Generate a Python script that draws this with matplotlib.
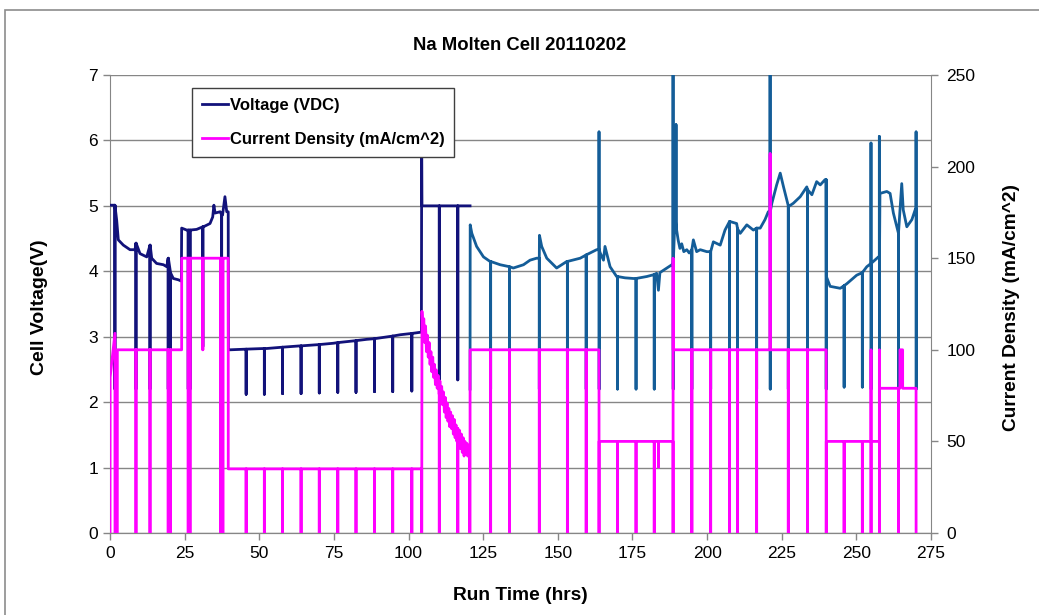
import numpy as np
import matplotlib.pyplot as plt
from matplotlib.lines import Line2D
from matplotlib.patches import Rectangle

plt.rcParams['font.family'] = ['Liberation Sans', 'DejaVu Sans']

# ---- voltage, first run (navy): baseline trace in hours / volts
v1_t = [0.0, 1.6, 2.24, 2.78, 4.46, 6.7, 8.38, 8.75, 10.05, 12.3, 13.45, 13.97, 15.6, 17.9, 19.0,
        19.55, 20.35, 21.2, 22.9, 23.9, 24.0, 25.7, 26.5, 29.0, 31.3, 33.5, 34.4, 34.8, 35.2, 36.9,
        37.7, 38.5, 39.1, 39.6, 39.65, 40.2, 52.5, 63.7, 74.8, 86.0, 97.2, 104.3, 104.4, 104.5, 120.6]
v1_v = [5.01, 5.01, 4.78, 4.48, 4.40, 4.33, 4.33, 4.43, 4.27, 4.22, 4.40, 4.20, 4.12, 4.10, 4.07,
        4.20, 3.97, 3.89, 3.87, 3.85, 4.66, 4.63, 4.63, 4.64, 4.68, 4.73, 4.83, 5.01, 4.89, 4.91,
        4.86, 5.14, 4.91, 4.91, 2.80, 2.80, 2.82, 2.86, 2.90, 2.96, 3.03, 3.07, 5.80, 5.00, 5.00]
# interruptions: time, level before the interruption, level reached
v1_ev_t = [1.65, 8.7, 13.4, 19.5, 20.3, 26.2, 26.8, 31.1, 37.4, 45.6, 51.7, 57.8, 64.0, 70.1,
           76.3, 82.4, 88.6, 94.7, 101.1, 110.3, 116.5]
v1_ev_base = [5.01, 4.43, 4.40, 4.20, 3.97, 4.63, 4.63, 4.68, 4.86, 2.81, 2.82, 2.84, 2.86, 2.88,
              2.91, 2.94, 2.97, 3.01, 3.05, 5.00, 5.00]
v1_ev_to = [2.2, 2.2, 2.2, 2.2, 2.2, 2.2, 2.2, 2.85, 2.2, 2.12, 2.12, 2.13, 2.13, 2.14,
            2.15, 2.15, 2.16, 2.16, 2.17, 2.34, 2.34]

# ---- voltage, second run (steel blue)
v2_t = [120.6, 120.65, 121.2, 122.8, 125.1, 127.3, 130.7, 135.1, 138.5, 140.7, 142.9, 143.85,
        144.6, 146.3, 149.6, 153.0, 157.5, 160.8, 163.0, 164.2, 165.3, 165.8, 167.5, 169.7, 172.5,
        175.3, 179.8, 183.1, 183.7, 184.2, 186.5, 188.2, 189.3, 189.8, 190.3, 190.9, 191.5, 192.2,
        193.2, 194.0, 195.4, 196.5, 197.7, 199.9, 202.1, 204.4, 206.0, 207.7, 209.9, 211.1, 213.3,
        215.5, 217.8, 219.4, 220.5, 221.7, 223.3, 224.5, 225.6, 227.3, 228.9, 231.2, 233.4, 235.1,
        236.7, 237.9, 239.5, 239.95, 241.2, 244.6, 246.8, 250.1, 253.5, 255.7, 257.4, 257.9, 260.2,
        261.3, 262.4, 264.1, 265.2, 265.7, 266.9, 268.6, 269.7]
v2_v = [2.2, 4.71, 4.58, 4.38, 4.22, 4.15, 4.10, 4.05, 4.10, 4.17, 4.20, 4.55,
        4.38, 4.20, 4.05, 4.15, 4.20, 4.28, 4.33, 4.28, 4.17, 4.38, 4.07, 3.92, 3.90,
        3.89, 3.92, 3.97, 3.71, 3.98, 4.05, 4.10, 4.89, 4.63, 4.48, 4.35, 4.42, 4.30,
        4.33, 4.28, 4.48, 4.30, 4.33, 4.30, 4.45, 4.40, 4.63, 4.76, 4.73, 4.58, 4.71,
        4.63, 4.66, 4.79, 4.91, 5.04, 5.32, 5.50, 5.29, 4.99, 5.04, 5.14, 5.29, 5.17,
        5.37, 5.32, 5.40, 3.92, 3.77, 3.74, 3.81, 3.94, 4.07, 4.15, 4.22, 5.19, 5.22,
        5.19, 4.89, 4.58, 5.34, 4.94, 4.68, 4.79, 4.94]
v2_ev_t = [127.5, 133.8, 143.8, 153.2, 159.5, 163.8, 163.85, 170.0, 176.2, 182.3, 188.6, 188.65,
           189.6, 194.9, 201.2, 207.5, 210.2, 216.6, 221.1, 221.15, 227.2, 233.6, 239.9, 245.9,
           252.0, 254.9, 254.95, 257.7, 257.75, 264.1, 270.0, 270.05]
v2_ev_base = [4.15, 4.07, 4.20, 4.15, 4.25, 4.33, 4.33, 3.92, 3.89, 3.95, 4.10, 4.10,
              4.63, 4.33, 4.30, 4.76, 4.65, 4.66, 4.91, 4.91, 5.00, 5.25, 5.40, 3.78,
              3.98, 4.12, 4.12, 4.22, 4.22, 4.58, 4.94, 4.94]
v2_ev_to = [2.2, 2.2, 2.2, 2.2, 2.2, 6.13, 2.2, 2.2, 2.2, 2.2, 7.0, 2.2,
            6.24, 2.2, 2.2, 2.2, 2.2, 2.2, 7.0, 2.2, 2.2, 2.2, 2.2, 2.23,
            2.23, 5.96, 2.2, 6.06, 2.2, 2.2, 6.13, 2.2]

# ---- current density (mA/cm^2)
i_t = [0.0, 0.05, 1.65, 1.68, 2.45, 2.46, 24.0, 24.01, 39.6, 39.61, 104.4, 104.41,
       104.5, 104.8, 105.1, 105.4, 105.7, 106.0, 106.3, 106.6, 106.9, 107.2, 107.5, 107.8,
       108.1, 108.4, 108.7, 109.0, 109.3, 109.6, 109.9, 110.2, 110.5, 110.8, 111.1, 111.4,
       111.7, 112.0, 112.3, 112.6, 112.9, 113.2, 113.5, 113.8, 114.1, 114.4, 114.7, 115.0,
       115.3, 115.6, 115.9, 116.2, 116.5, 116.8, 117.1, 117.4, 117.7, 118.0, 118.3, 118.6,
       118.9, 119.2, 119.5, 119.8, 120.1, 120.4, 120.41, 120.6, 120.61, 163.8, 163.81, 163.82,
       188.6, 188.61, 188.62, 188.63, 239.9, 239.91, 239.92, 254.9, 254.91, 254.92, 254.93,
       257.7, 257.71, 257.72, 257.73, 264.6, 264.61, 265.5, 265.51, 270.0, 270.01]
i_v = [0, 85, 109, 0, 0, 100, 100, 150, 150, 35, 35, 0,
       121, 110, 117, 104, 113, 99, 108, 96, 104, 92, 99, 88,
       96, 85, 92, 81, 89, 79, 86, 76, 83, 73, 80, 70,
       77, 66, 74, 63, 71, 61, 68, 58, 66, 57, 64, 54,
       62, 52, 59, 50, 57, 48, 56, 46, 54, 44, 52, 42,
       50, 43, 49, 42, 48, 44, 0, 0, 100, 100, 0, 50,
       50, 0, 150, 100, 100, 0, 50, 50, 100, 0, 50,
       50, 100, 0, 79, 79, 100, 100, 79, 79, 0]
i_ev_t = [8.7, 13.4, 19.5, 20.3, 26.2, 26.8, 31.1, 37.1, 37.8, 45.6, 51.7, 57.8, 64.0, 70.1,
          76.3, 82.4, 88.6, 94.7, 101.1, 110.3, 116.5, 127.5, 133.8, 143.8, 153.2, 159.5,
          170.0, 176.2, 182.3, 183.7, 194.9, 201.2, 207.5, 210.2, 216.6, 221.1, 227.2, 233.6,
          245.9, 252.0, 264.1]
i_ev_base = [100, 100, 100, 100, 150, 150, 150, 150, 150, 35, 35, 35, 35, 35,
             35, 35, 35, 35, 35, 76, 57, 100, 100, 100, 100, 100,
             50, 50, 50, 50, 100, 100, 100, 100, 100, 100, 100, 100,
             50, 50, 79]
i_ev_to = [0, 0, 0, 0, 0, 0, 100, 0, 0, 0, 0, 0, 0, 0,
           0, 0, 0, 0, 0, 0, 0, 0, 0, 0, 0, 0,
           0, 0, 0, 36, 0, 0, 0, 0, 0, 207, 0, 0,
           0, 0, 0]


def with_events(t, v, ev_t, ev_base, ev_to):
    """Merge a trace with vertical excursions (base -> to -> base) at given times."""
    groups = [(a, [(a, b)]) for a, b in zip(t, v)]
    groups += [(a, [(a, b), (a, c), (a, b)]) for a, b, c in zip(ev_t, ev_base, ev_to)]
    groups.sort(key=lambda g: g[0])
    pts = [p for _, g in groups for p in g]
    return np.array([p[0] for p in pts]), np.array([p[1] for p in pts])


navy = '#12127a'
steel = '#145d98'
pink = '#ff00ff'
grey = '#868686'

fig = plt.figure(figsize=(10.39, 6.15), dpi=100)
fig.patches.append(Rectangle((5 / 1039, -0.1), 1.2, 1.1 - 10 / 615, transform=fig.transFigure,
                             fill=False, edgecolor='#8c8c8c', lw=1.2))

ax = fig.add_axes([110 / 1039, 82 / 615, 821 / 1039, 458 / 615])
ax2 = ax.twinx()

x1, y1 = with_events(v1_t, v1_v, v1_ev_t, v1_ev_base, v1_ev_to)
x2, y2 = with_events(v2_t, v2_v, v2_ev_t, v2_ev_base, v2_ev_to)
xi, yi = with_events(i_t, i_v, i_ev_t, i_ev_base, i_ev_to)

ax.plot(x1, y1, color=navy, lw=2, zorder=3)
ax.plot(x2, y2, color=steel, lw=2, zorder=3)
ax2.plot(xi, yi, color=pink, lw=2, zorder=3)

ax.set_xlim(0, 275)
ax.set_ylim(0, 7)
ax2.set_ylim(0, 250)
ax.set_xticks(np.arange(0, 276, 25))
ax.set_yticks(np.arange(0, 8, 1))
ax2.set_yticks(np.arange(0, 251, 50))
ax.yaxis.grid(True, color=grey, lw=1)
ax.set_axisbelow(True)

for a in (ax, ax2):
    a.spines['top'].set_visible(False)
    for s in ('left', 'right', 'bottom'):
        a.spines[s].set_color(grey)
    a.tick_params(colors=grey, labelcolor='black', labelsize=12.5, length=5, width=1)
ax.spines['right'].set_visible(False)
ax2.spines['left'].set_visible(False)
ax.tick_params(axis='x', pad=4)
ax2.tick_params(axis='y', pad=6)

fig.text(520 / 1039, 1 - 45 / 615, 'Na Molten Cell 20110202', ha='center', va='center',
         fontsize=13.3, fontweight='bold')
fig.text(520 / 1039, 1 - 595 / 615, 'Run Time (hrs)', ha='center', va='center',
         fontsize=13.8, fontweight='bold')
fig.text(40 / 1039, 1 - 307 / 615, 'Cell Voltage(V)', ha='center', va='center',
         rotation=90, fontsize=14, fontweight='bold')
fig.text(1012 / 1039, 1 - 307 / 615, 'Current Density (mA/cm^2)', ha='center', va='center',
         rotation=90, fontsize=13.8, fontweight='bold')

handles = [Line2D([], [], color=navy, lw=2), Line2D([], [], color=pink, lw=2)]
leg = ax2.legend(handles, ['Voltage (VDC)', 'Current Density (mA/cm^2)'],
                 loc='upper left', bbox_to_anchor=(192 / 1039, 1 - 88 / 615),
                 bbox_transform=fig.transFigure, borderaxespad=0, fancybox=False,
                 framealpha=1, edgecolor='#404040', handlelength=1.55, handletextpad=0.1,
                 labelspacing=1.15, borderpad=0.6, prop={'weight': 'bold', 'size': 12})
leg.get_frame().set_linewidth(1)
leg.set_zorder(10)

fig.savefig('out.png', dpi=100)
